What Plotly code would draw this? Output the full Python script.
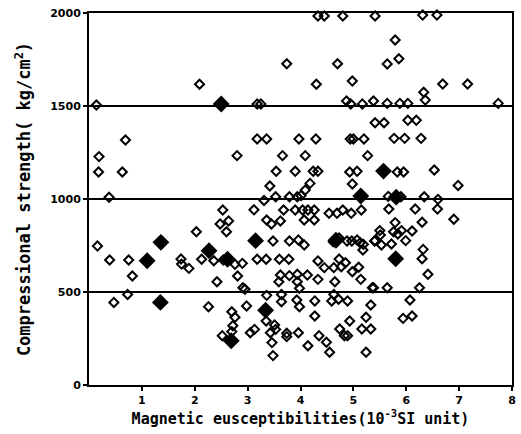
import plotly.graph_objects as go

# Open diamonds: magnetic susceptibility (10^-3 SI) vs compressional strength (kg/cm2)
open_x = [
    0.14, 2.09, 0.69, 0.19, 0.18, 0.63, 0.38,
    4.33, 4.45, 4.80, 5.41, 6.31, 6.58,
    3.74, 4.70, 4.30, 4.98, 5.79, 5.64, 5.86, 6.69, 7.16, 6.33, 6.36,
    3.18, 3.25, 4.87, 4.95, 5.17, 5.38, 5.64, 5.88, 6.03, 7.74,
    5.41, 5.58, 6.03, 6.19,
    3.18, 3.36, 3.97, 4.29, 4.94, 5.00, 5.20, 5.77, 5.97, 6.28,
    2.80, 3.66, 4.09, 5.27,
    3.54, 3.90, 4.24, 4.33, 4.93, 5.07, 5.83, 5.95, 6.53,
    3.42, 4.98, 4.18, 4.09, 6.98,
    3.31, 3.53, 3.79, 3.94, 4.01, 5.66, 5.90, 6.34, 6.60,
    2.53, 2.48, 2.64, 2.60, 2.03, 0.16,
    0.39, 0.75, 0.82, 1.74, 1.75, 1.89, 2.13, 2.36, 2.42, 2.54,
    3.12, 3.68, 3.90, 4.04, 4.14, 4.26, 4.54, 4.69, 4.80, 4.96, 5.15,
    3.36, 3.45, 3.62, 4.07, 4.26,
    3.48, 3.79, 3.96, 4.07, 4.62, 4.73,
    4.88, 4.97, 5.07, 5.13, 5.19, 5.18, 5.40,
    3.18, 3.35, 3.60, 3.78,
    2.76, 2.90, 2.81, 2.91, 2.95,
    4.33, 4.45, 4.63, 4.73, 4.77, 4.85, 4.98, 5.10,
    3.62, 3.79, 3.94, 4.13, 3.59, 3.94, 3.98, 4.33, 4.65, 5.14, 5.38,
    5.67, 6.17, 6.59, 6.90, 5.79, 6.30,
    5.50, 5.51, 5.41, 5.53, 5.76, 5.84, 5.91, 6.11, 5.99, 5.72,
    6.32, 6.30, 6.41, 5.36, 5.64, 6.25,
    0.47, 0.73, 2.26, 2.52, 2.70, 2.76, 2.72, 2.70, 2.98, 3.05, 3.13,
    3.36, 3.64, 3.64, 3.93, 3.98, 4.27, 4.59, 4.63, 4.72, 4.89, 5.33,
    3.35, 3.51, 3.43, 3.53, 3.46, 3.74, 3.74, 3.96, 4.27, 4.35, 4.14,
    4.49, 4.55, 4.74, 4.83, 4.89, 4.93, 5.16, 5.24, 5.33, 5.24, 3.48,
    6.07, 5.94, 6.11,
]
open_y = [
    1505, 1617, 1317, 1228, 1145, 1145, 1009,
    1984, 1984, 1984, 1984, 1989, 1989,
    1727, 1727, 1617, 1634, 1855, 1726, 1754, 1618, 1618, 1574, 1532,
    1511, 1511, 1527, 1511, 1511, 1527, 1514, 1514, 1514, 1514,
    1410, 1410, 1423, 1423,
    1323, 1323, 1323, 1323, 1323, 1323, 1323, 1326, 1326, 1326,
    1233, 1233, 1233, 1233,
    1149, 1149, 1149, 1149, 1145, 1149, 1145, 1145, 1156,
    1070, 1081, 1084, 1048, 1073,
    992, 1012, 1012, 1012, 1018, 1014, 1012, 1012, 998,
    941, 866, 882, 824, 824, 747,
    672, 672, 586, 677, 650, 627, 676, 668, 555, 672,
    942, 941, 941, 941, 941, 941, 923, 923, 941, 923, 941,
    887, 866, 882, 887, 887,
    774, 774, 780, 753, 770, 790,
    774, 774, 780, 765, 756, 726, 774,
    676, 676, 676, 676,
    649, 654, 586, 523, 515,
    667, 631, 631, 677, 636, 657, 609, 633,
    591, 588, 595, 591, 555, 555, 520, 568, 555, 568, 523,
    946, 946, 946, 891, 873, 875,
    830, 806, 776, 753, 824, 812, 830, 828, 776, 758,
    729, 679, 595, 523, 523, 523,
    444, 487, 421, 265, 394, 364, 319, 287, 425, 281, 299,
    482, 487, 448, 457, 421, 452, 452, 487, 461, 452, 430,
    344, 323, 281, 299, 228, 278, 260, 281, 371, 265, 211,
    230, 176, 301, 265, 265, 344, 301, 364, 301, 176, 158,
    457, 358, 371,
]

# Filled diamonds
filled_x = [2.50, 5.14, 5.57, 5.81, 1.36, 2.27, 1.10, 2.62, 3.15, 4.67, 5.80, 1.35, 3.34, 2.69]
filled_y = [1511, 1016, 1150, 1010, 767, 722, 668, 676, 776, 778, 679, 444, 402, 238]

x_tickvals = [1, 2, 3, 4, 5, 6, 7, 8]
x_ticktext = ["1", "2", "3", "4", "5", "6", "7", "8"]
y_tickvals = [0, 500, 1000, 1500, 2000]
y_ticktext = ["0", "500", "1000", "1500", "2000"]

fig = go.Figure()
fig.add_trace(go.Scatter(
    x=open_x, y=open_y, mode="markers",
    marker=dict(symbol="diamond-open", size=7, color="black", line=dict(width=2, color="black")),
    showlegend=False, cliponaxis=False,
))
fig.add_trace(go.Scatter(
    x=filled_x, y=filled_y, mode="markers",
    marker=dict(symbol="diamond", size=13, color="black", line=dict(width=0)),
    showlegend=False, cliponaxis=False,
))

tick_font = dict(family="DejaVu Sans", size=11, color="black", weight="bold")
xtitle_font = dict(family="DejaVu Sans Mono", size=15, color="black", weight="bold")
ytitle_font = dict(family="DejaVu Sans Mono", size=17, color="black", weight="bold")

fig.update_layout(
    width=521, height=434,
    margin=dict(l=89, r=5, t=13, b=49),
    paper_bgcolor="white", plot_bgcolor="white",
    xaxis=dict(
        range=[0, 8], tickvals=x_tickvals, ticktext=x_ticktext,
        showgrid=False, zeroline=False,
        showline=True, mirror=True, linewidth=2, linecolor="black",
        ticks="outside", ticklen=4, tickwidth=1.5, tickcolor="black",
        tickfont=tick_font,
        title=dict(text="Magnetic eusceptibilities(10<sup>-3</sup>SI unit)", font=xtitle_font, standoff=7),
    ),
    yaxis=dict(
        range=[0, 2000], tickvals=y_tickvals, ticktext=y_ticktext,
        showgrid=True, gridcolor="black", gridwidth=1.5, zeroline=False,
        showline=True, mirror=True, linewidth=2, linecolor="black",
        ticks="outside", ticklen=4, tickwidth=1.5, tickcolor="black",
        tickfont=tick_font,
        title=dict(text="Compressional strength( kg/cm<sup>2</sup>)", font=ytitle_font, standoff=15),
    ),
)

post = """
document.body.style.margin = '0';
document.body.style.overflow = 'hidden';
"""

fig.write_html("out.html", post_script=post, config={"displayModeBar": False})
